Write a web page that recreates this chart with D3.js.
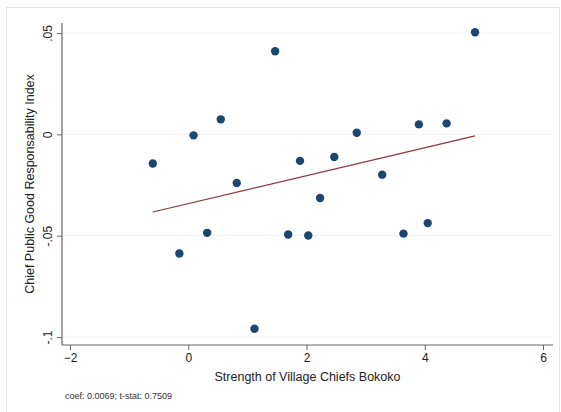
<!DOCTYPE html>
<html><head><meta charset="utf-8">
<script src="https://cdn.jsdelivr.net/npm/d3@7"></script>
<style>body{margin:0;background:#fff;}svg{display:block;font-family:"Liberation Sans",Arial,sans-serif;}</style>
</head><body>
<svg id="c" width="561" height="412"></svg>
<script>
const xVals = [-0.60, -0.15, 0.09, 0.32, 0.55, 0.82, 1.12, 1.47, 1.69, 1.89, 2.03, 2.23, 2.47, 2.85, 3.28, 3.64, 3.90, 4.05, 4.37, 4.85];
const yVals = [-0.0144, -0.0588, -0.0005, -0.0486, 0.0074, -0.0240, -0.0959, 0.0410, -0.0494, -0.0131, -0.0499, -0.0314, -0.0112, 0.0008, -0.0199, -0.0490, 0.0049, -0.0438, 0.0054, 0.0504];
const xTicks = [-2, 0, 2, 4, 6];
const yTicks = [0.05, 0, -0.05, -0.1];
const yTickLabels = [".05", "0", "-.05", "-.1"];
const fitSlope = 0.0069, fitIntercept = -0.0342;
const note = "coef: 0.0069; t-stat: 0.7509";

const svg = d3.select("#c");
svg.append("rect").attr("x",6.5).attr("y",7.5).attr("width",553).attr("height",410).attr("fill","#fff").attr("stroke","#e4e4e4");

const x = d3.scaleLinear().domain([-2, 6]).range([70, 543]);
const y = d3.scaleLinear().domain([-0.1, 0.05]).range([337, 33]);
const pL = 62, pR = 553, pT = 23, pB = 345;

// gridlines
svg.append("g").selectAll("line").data(yTicks).join("line")
  .attr("x1", pL).attr("x2", pR).attr("y1", d=>y(d)).attr("y2", d=>y(d))
  .attr("stroke", "#eaf2f3").attr("stroke-width", 1);

// axes
const ax = svg.append("g").attr("stroke","#666").attr("stroke-width",1.2).attr("fill","none");
ax.append("line").attr("x1",pL).attr("x2",pL).attr("y1",pT).attr("y2",pB);
ax.append("line").attr("x1",pL).attr("x2",pR).attr("y1",pB).attr("y2",pB);

const xa = svg.append("g").attr("transform",`translate(0,${pB})`)
  .call(d3.axisBottom(x).tickValues(xTicks).tickSize(5).tickPadding(3).tickFormat(d3.format("d")));
xa.select(".domain").remove();
xa.selectAll("line").attr("stroke","#666");
xa.selectAll("text").attr("font-size",12).attr("fill","#222").attr("font-family","Liberation Sans, Arial, sans-serif");

const ya = svg.append("g").attr("transform",`translate(${pL},0)`)
  .call(d3.axisLeft(y).tickValues(yTicks).tickSize(5).tickFormat((d,i)=>yTickLabels[i]));
ya.select(".domain").remove();
ya.selectAll("line").attr("stroke","#666");
ya.selectAll("text").attr("font-size",12).attr("fill","#222").attr("font-family","Liberation Sans, Arial, sans-serif")
  .attr("x",null).attr("dy",null).attr("text-anchor","middle")
  .attr("transform","translate(-10,0) rotate(-90)");

// fit line
const fx0 = d3.min(xVals), fx1 = d3.max(xVals);
svg.append("line")
  .attr("x1", x(fx0)).attr("y1", y(fitIntercept + fitSlope*fx0))
  .attr("x2", x(fx1)).attr("y2", y(fitIntercept + fitSlope*fx1))
  .attr("stroke", "#90353b").attr("stroke-width", 1.2);

// points
svg.append("g").selectAll("circle").data(xVals.map((v,i)=>[v,yVals[i]])).join("circle")
  .attr("cx", d=>x(d[0])).attr("cy", d=>y(d[1])).attr("r", 4.2).attr("fill", "#1a476f");

// titles
svg.append("text").attr("x", (pL+pR)/2).attr("y", 381).attr("text-anchor","middle")
  .attr("font-size",12.5).attr("fill","#222").text("Strength of Village Chiefs Bokoko");
svg.append("text").attr("transform",`translate(34,${(pT+pB)/2}) rotate(-90)`).attr("text-anchor","middle")
  .attr("font-size",12.5).attr("fill","#222").text("Chief Public Good Responsability Index");
svg.append("text").attr("x", 65).attr("y", 399).attr("font-size",9).attr("fill","#333").text(note);
</script>
</body></html>
